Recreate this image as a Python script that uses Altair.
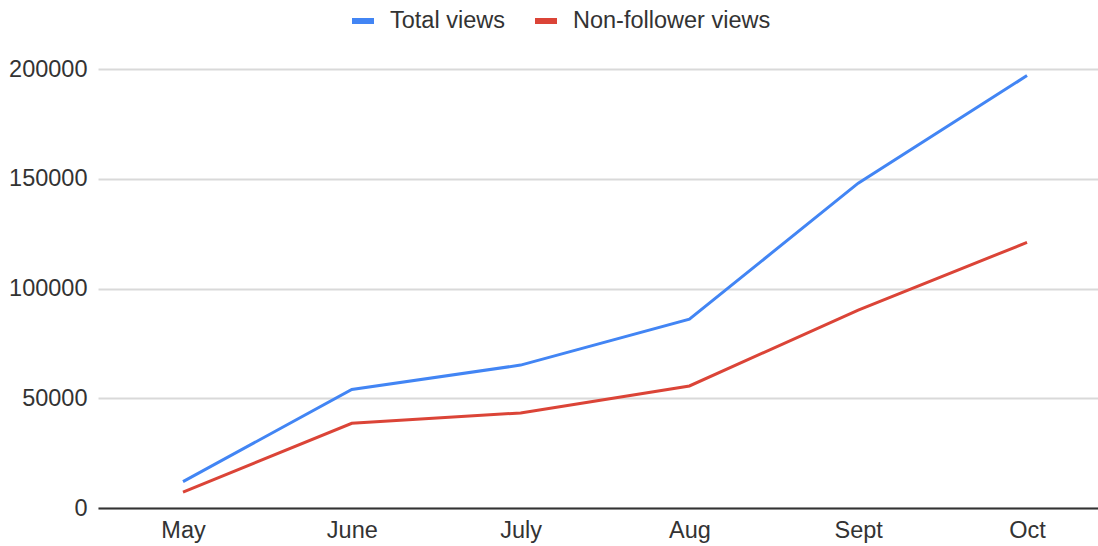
import altair as alt
import pandas as pd

months = ["May", "June", "July", "Aug", "Sept", "Oct"]
total_views = [12000, 54000, 65100, 86000, 148000, 197000]
non_follower_views = [7200, 38600, 43300, 55600, 90200, 121000]
series_names = ["Total views", "Non-follower views"]
series_colors = ["#4285F4", "#DB4437"]
y_ticks = [0, 50000, 100000, 150000, 200000]

rows = []
for name, vals in zip(series_names, [total_views, non_follower_views]):
    for m, v in zip(months, vals):
        rows.append({"month": m, "value": v, "series": name})
df = pd.DataFrame(rows)

FONT = "Liberation Sans"
FS = 23.5

chart = alt.Chart(df).mark_line(strokeWidth=3).encode(
    x=alt.X("month:N", sort=months,
            scale=alt.Scale(type="point", padding=0.462, align=0.545),
            axis=alt.Axis(title=None, labelAngle=0, ticks=False, grid=False,
                          domainColor="#333333", domainWidth=2,
                          labelPadding=10, labelFont=FONT, labelFontSize=FS,
                          labelColor="#333333")),
    y=alt.Y("value:Q", scale=alt.Scale(domain=[0, 200000], nice=False),
            axis=alt.Axis(title=None, values=y_ticks, format="d", ticks=False,
                          domain=False, gridColor="#d9d9d9", gridWidth=2,
                          labelPadding=11, labelFont=FONT, labelFontSize=FS,
                          labelColor="#333333")),
    color=alt.Color("series:N",
                    scale=alt.Scale(domain=series_names, range=series_colors),
                    sort=series_names,
                    legend=alt.Legend(title=None, orient="none", direction="horizontal",
                                      legendX=251, legendY=-62,
                                      symbolType="stroke", symbolStrokeWidth=6,
                                      symbolSize=484, labelFont=FONT,
                                      labelFontSize=FS, labelColor="#333333",
                                      labelLimit=0, labelOffset=13,
                                      columnPadding=18)),
).properties(
    width=1000, height=439,
    background="white",
    padding={"left": 98, "top": 69, "right": 0, "bottom": 38},
    autosize=alt.AutoSizeParams(type="none"),
).configure_view(stroke=None)

chart.save("out.html", embed_options={"renderer": "svg", "actions": False})
